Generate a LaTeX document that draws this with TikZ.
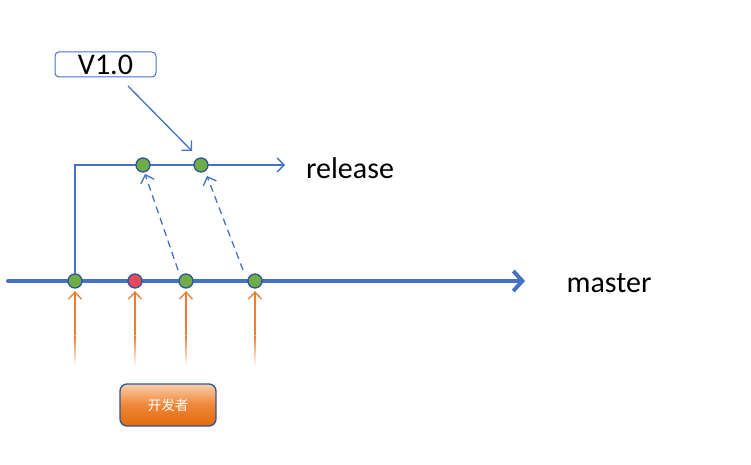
\documentclass[tikz,border=0pt]{standalone}
\usepackage{fontspec}
\setmainfont{Carlito}
\newfontfamily\cjk{Noto Sans CJK SC}
\usetikzlibrary{arrows.meta,backgrounds,calc}
\definecolor{lineblue}{RGB}{68,114,196}
\definecolor{cborder}{RGB}{47,85,151}
\definecolor{cgreen}{RGB}{112,173,71}
\definecolor{cred}{RGB}{232,72,92}
\definecolor{corange}{RGB}{237,125,49}
\definecolor{boxtop}{RGB}{250,205,170}
\definecolor{boxmid}{RGB}{238,135,55}
\definecolor{boxbot}{RGB}{226,106,12}
\tikzset{
  commit/.style={circle,minimum size=14pt,inner sep=0pt,draw=cborder,line width=1.3pt},
  lbl/.style={font=\fontsize{30}{34}\selectfont,inner sep=0pt},
  thinblue/.style={draw=lineblue,line width=1.3pt},
  tipopen/.style={-{Straight Barb[length=7pt,width=14pt]}},
  dev/.style={-{Straight Barb[length=7pt,width=13pt]},draw=corange,line width=1.3pt},
}
\begin{document}
\begin{tikzpicture}[x=1pt,y=-1pt]
\useasboundingbox (0,0) rectangle (751,465);
% commits
\node[commit,fill=cgreen] (m1) at (75,281) {};
\node[commit,fill=cred]   (m2) at (135,281) {};
\node[commit,fill=cgreen] (m3) at (186,281) {};
\node[commit,fill=cgreen] (m4) at (255,281) {};
\node[commit,fill=cgreen] (r1) at (143,165) {};
\node[commit,fill=cgreen] (r2) at (201,165) {};
% coordinates
\coordinate (ms) at (8,281);
\coordinate (me) at (525,281);
\coordinate (rel) at (285,165);
\coordinate (d1) at (178,270);
\coordinate (d2) at (243,270);
\coordinate (vs) at (128,86);
% labels
\node[lbl] (master) at (609,283) {master};
\node[lbl] (release) at (350,168) {release};
\node[lbl,draw=lineblue,line width=1pt,rounded corners=4pt,minimum width=101pt,minimum height=25pt] (v) at (105.5,64.5) {V1.0};
\node[draw=cborder,line width=1.3pt,rounded corners=7pt,minimum width=96pt,minimum height=42pt,
      top color=boxtop,bottom color=boxbot,middle color=boxmid,
      text=white,font=\cjk\fontsize{13.5}{15}\selectfont] (devbox) at (168,405) {开发者};
% lines
\begin{scope}[on background layer]
  \draw[draw=lineblue,line width=4pt,line cap=round,-{Straight Barb[length=9pt,width=20pt]}] (ms) -- (me);
  \draw[thinblue,tipopen] (m1.center) |- (rel);
\end{scope}
\draw[thinblue,dashed,dash pattern=on 7pt off 5pt,tipopen] (d1) -- ($(r1)+(2,9)$);
\draw[thinblue,dashed,dash pattern=on 7pt off 5pt,tipopen] (d2) -- ($(r2)+(6,11)$);
\draw[thinblue,tipopen] (vs) -- ($(r2)+(-9,-14)$);
% developer arrows
\foreach \n/\x in {m1/75,m2/135,m3/186,m4/255}{
  \coordinate (o\n) at (\x,335);
  \draw[dev] (o\n) -- ($(\n.south)+(0,2.5)$);
  \shade[top color=corange,bottom color=white] (\x-0.65,335) rectangle (\x+0.65,366);
}
\end{tikzpicture}
\end{document}
